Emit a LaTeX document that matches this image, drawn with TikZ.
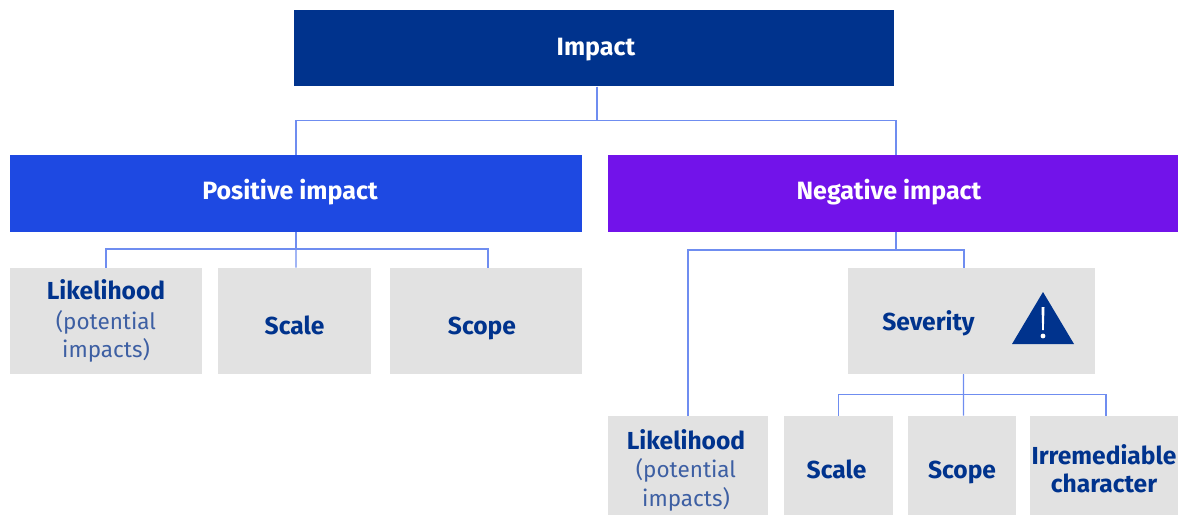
\documentclass[tikz,border=0pt]{standalone}
\usepackage{fontspec}
\setmainfont{Fira Sans}
\usepackage{tikz}
\usetikzlibrary{positioning}
\definecolor{navy}{HTML}{00338D}
\definecolor{cobalt}{HTML}{1E49E2}
\definecolor{violet}{HTML}{7213EA}
\definecolor{panel}{HTML}{E2E2E2}
\definecolor{wire}{HTML}{6F8DF0}
\definecolor{softnavy}{HTML}{3D5FA3}
\begin{document}
\begin{tikzpicture}[x=.025cm,y=-.025cm]
\tikzset{base/.style = {text height=#1,text depth=0pt}}
\tikzset{head/.style = {fill=#1,text=white,font=\fontsize{17.8}{20}\selectfont\bfseries,minimum height=1.92cm,inner sep=0pt}}
\tikzset{cell/.style = {fill=panel,text=navy,font=\fontsize{17.5}{20}\selectfont\bfseries,align=center,inner sep=0pt}}
\tikzset{toprow/.style = {cell,minimum height=2.65cm}}
\tikzset{lowrow/.style = {cell,minimum height=2.475cm}}
\tikzset{link/.style = {wire,line width=1pt}}
\newcommand{\detail}[1]{{\fontsize{16}{21}\selectfont\mdseries\color{softnavy}#1}}
\useasboundingbox (0,0) rectangle (1178,515);
%top level
\node[head=navy,base=10pt,minimum width=15cm] (impact) at (594,48) {\hspace*{.1cm}Impact};
\node[head=cobalt,base=8pt,minimum width=14.3cm] (positive) at (296,193.5) {\hspace*{-.3cm}Positive impact};
\node[head=violet,base=8pt,minimum width=14.25cm] (negative) at (893,193.5) {\hspace*{-.2cm}Negative impact};
%positive side
\node[toprow,minimum width=4.8cm] (likeA) at (106,321) {Likelihood\\[1pt]\detail{(potential}\\\detail{impacts)}};
\node[toprow,base=19.5pt,minimum width=3.825cm] (scaleA) at (294.5,321) {Scale};
\node[toprow,base=19.5pt,minimum width=4.8cm] (scopeA) at (486,321) {\hspace*{-.2cm}Scope};
%negative side
\node[toprow,base=12.8pt,minimum width=6.175cm] (severity) at (971.5,321) {\hspace*{-2.15cm}Severity};
\node[lowrow,minimum width=4cm] (likeB) at (688,465.5) {\rule{0pt}{21pt}\hspace*{-.1cm}Likelihood\\\hspace*{-.1cm}\detail{(potential}\\[1pt]\hspace*{-.1cm}\detail{impacts)}};
\node[lowrow,base=18.5pt,minimum width=2.725cm] (scaleB) at (838.5,465.5) {\hspace*{-.1cm}Scale};
\node[lowrow,base=18.5pt,minimum width=2.7cm] (scopeB) at (962,465.5) {Scope};
\node[lowrow,minimum width=3.7cm] (irrem) at (1104,465.5) {\rule{0pt}{19pt}Irremediable\\character};
%warning sign
\fill[navy] (1012,344) -- (1074,344) -- (1043,292) -- cycle;
\fill[white] (1041.5,307) -- (1044.5,307) -- (1043.8,330) -- (1042.2,330) -- cycle;
\fill[white] (1043,336) circle (2.4);
%connectors
\draw[link] ([xshift=.075cm]impact.south) -- ++(0,34) -| (positive.north);
\draw[link] ([xshift=.075cm]impact.south) -- ++(0,34) -| ([xshift=.075cm]negative.north);
\draw[link] (positive.south) -- ++(0,17) -| (likeA.north);
\draw[link] (positive.south) -- ([xshift=.0375cm]scaleA.north);
\draw[link] (positive.south) -- ++(0,17) -| ([xshift=.05cm]scopeA.north);
\draw[link] ([xshift=.075cm]negative.south) -- ++(0,18) -| (likeB.north);
\draw[link] ([xshift=.075cm]negative.south) -- ++(0,18) -| ([xshift=-.1875cm]severity.north);
\draw[link] ([xshift=-.2cm]severity.south) -- ++(0,20) -| (scaleB.north);
\draw[link] ([xshift=-.2cm]severity.south) -- ([xshift=.0375cm]scopeB.north);
\draw[link] ([xshift=-.2cm]severity.south) -- ++(0,20) -| ([xshift=.05cm]irrem.north);
\end{tikzpicture}
\end{document}
